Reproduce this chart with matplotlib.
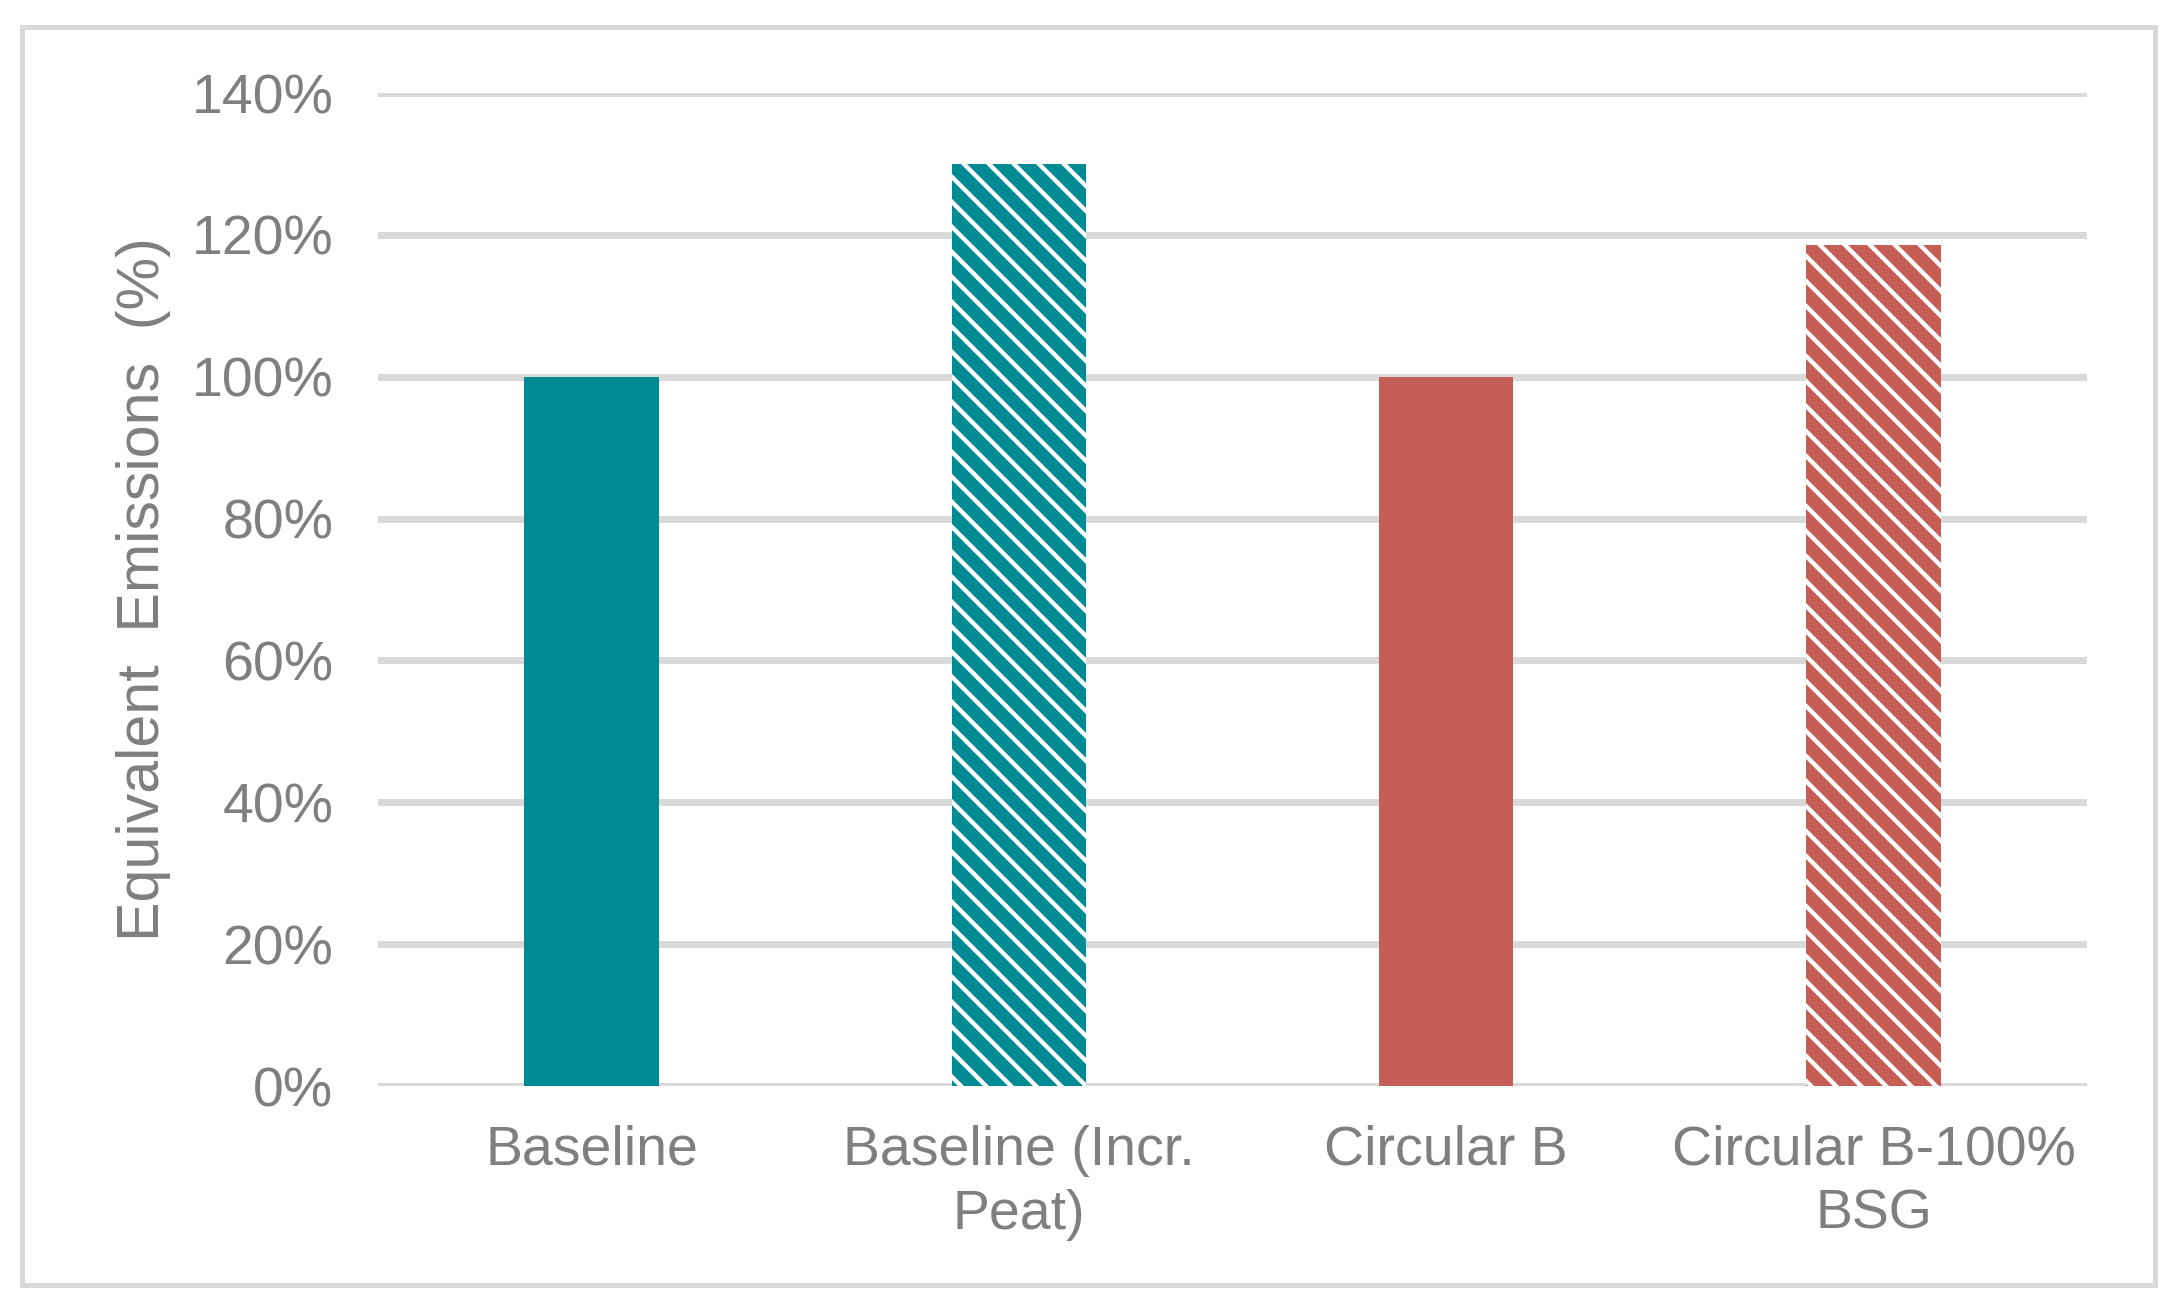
import numpy as np
import matplotlib.pyplot as plt
from matplotlib.patches import Rectangle

plt.rcParams['font.family'] = ['Liberation Sans', 'DejaVu Sans']
plt.rcParams['hatch.linewidth'] = 1.05

# data
scenarios = ['Baseline', 'Baseline (Incr.\nPeat)', 'Circular B', 'Circular B-100%\nBSG']
emissions = [100, 130, 100, 118.6]
bar_colors = ['#008A94', '#008A94', '#C55E55', '#C55E55']
hatches = ['', '\\\\\\\\', '', '\\\\\\\\']
yticks = [0, 20, 40, 60, 80, 100, 120, 140]

grey = '#7F7F7F'
grid_c = '#D9D9D9'

# dpi 300 so the hatch spacing comes out like the original
DPI = 300
fig = plt.figure(figsize=(2182 / DPI, 1314 / DPI), dpi=DPI)
ax = fig.add_axes([0.1732, 0.1735, 0.7833, 0.7557])

x = np.arange(len(scenarios))
for i in range(len(scenarios)):
    ax.bar(x[i], emissions[i], width=0.315, color=bar_colors[i],
           edgecolor='white' if hatches[i] else bar_colors[i],
           hatch=hatches[i], linewidth=0, zorder=3)

ax.set_ylim(0, 140)
ax.set_xlim(-0.5, len(scenarios) - 0.5)
ax.set_yticks(yticks)
ax.set_yticklabels(['{}%'.format(v) for v in yticks])
ax.set_xticks(x)
ax.set_xticklabels(scenarios, linespacing=1.3)
ax.yaxis.grid(True, color=grid_c, linewidth=1.67, zorder=0)
ax.set_axisbelow(True)
for s in ax.spines.values():
    s.set_visible(False)
ax.tick_params(axis='both', length=0, colors=grey, labelsize=13.33)
ax.tick_params(axis='y', pad=10.7)
ax.tick_params(axis='x', pad=9.3)

ax.set_ylabel('Equivalent  Emissions  (%)', fontsize=14.2, color=grey, labelpad=4.8)

# outer chart border
fig.patches.append(Rectangle((22 / 2182, 1 - 1285 / 1314), 2133 / 2182, 1258 / 1314,
                             transform=fig.transFigure, fill=False,
                             edgecolor=grid_c, linewidth=1.2))

fig.savefig('out.png', dpi=DPI, facecolor='white')
